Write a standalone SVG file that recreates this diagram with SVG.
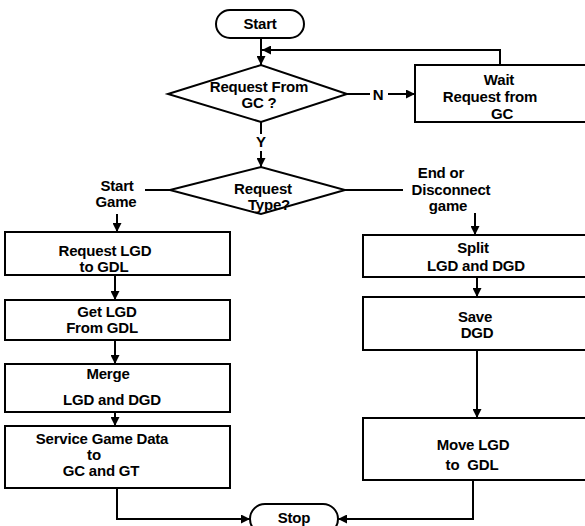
<svg xmlns="http://www.w3.org/2000/svg" width="585" height="526" viewBox="0 0 585 526">
<defs>
<marker id="ah" viewBox="0 0 10 10" refX="10" refY="5" markerWidth="9" markerHeight="9" markerUnits="userSpaceOnUse" orient="auto">
<path d="M0,0 L10,5 L0,10 z" fill="#000"/>
</marker>
<style>
.shape{fill:#fff;stroke:#000;stroke-width:2}
.t{font-family:"Liberation Sans",Arial,sans-serif;font-weight:bold;font-size:15px;fill:#000;text-anchor:middle;white-space:pre;letter-spacing:-0.2px}
.c{fill:none;stroke:#000;stroke-width:2}
.a{fill:none;stroke:#000;stroke-width:2;marker-end:url(#ah)}
</style>
</defs>
<rect width="585" height="526" fill="#fff"/>
<g id="connectors">
<line class="a" x1="261" y1="38" x2="261" y2="65"/>
<polyline class="a" points="500,65 500,50 262,50"/>
<line class="c" x1="347" y1="94" x2="370" y2="94"/>
<line class="a" x1="388" y1="94" x2="415" y2="94"/>
<line class="c" x1="261" y1="122" x2="261" y2="134"/>
<line class="a" x1="261" y1="151" x2="261" y2="167"/>
<line class="c" x1="145" y1="190" x2="170" y2="190"/>
<line class="c" x1="345" y1="190" x2="403" y2="190"/>
<line class="a" x1="117" y1="214" x2="117" y2="232"/>
<line class="a" x1="475" y1="213" x2="475" y2="235"/>
<line class="a" x1="115" y1="275" x2="115" y2="300"/>
<line class="a" x1="115" y1="340" x2="115" y2="364"/>
<line class="a" x1="115" y1="412" x2="115" y2="426"/>
<line class="a" x1="477" y1="277" x2="477" y2="297"/>
<line class="a" x1="477" y1="350" x2="477" y2="418"/>
<polyline class="a" points="117,488 117,519 250,519"/>
<polyline class="a" points="473,480 473,519 338,519"/>
</g>
<g id="start">
<rect class="shape" x="216" y="10" width="88" height="28" rx="14"/>
<text class="t" x="260" y="29">Start</text>
</g>
<g id="dec1">
<polygon class="shape" points="168,94 261,65 347,94 261,122"/>
<text class="t" x="259" y="92">Request From</text>
<text class="t" x="259" y="108">GC ?</text>
</g>
<g id="labelN"><text class="t" x="378" y="100">N</text></g>
<g id="wait">
<rect class="shape" x="415" y="65" width="175" height="57"/>
<text class="t" x="499" y="85">Wait</text>
<text class="t" x="490" y="102">Request from</text>
<text class="t" x="502" y="119">GC</text>
</g>
<g id="labelY"><text class="t" x="261" y="147">Y</text></g>
<g id="dec2">
<polygon class="shape" points="170,190 261,167 345,190 261,214"/>
<text class="t" x="263" y="194">Request</text>
<text class="t" x="269" y="210">Type?</text>
</g>
<g id="labelStartGame">
<text class="t" x="117" y="191">Start</text>
<text class="t" x="116" y="207">Game</text>
</g>
<g id="labelEnd">
<text class="t" x="441" y="178">End or</text>
<text class="t" x="451" y="195">Disconnect</text>
<text class="t" x="448" y="211">game</text>
</g>
<g id="reqLGD">
<rect class="shape" x="5" y="232" width="225" height="43"/>
<text class="t" x="105" y="256">Request LGD</text>
<text class="t" x="104" y="272">to GDL</text>
</g>
<g id="getLGD">
<rect class="shape" x="5" y="300" width="225" height="40"/>
<text class="t" x="107" y="317">Get LGD</text>
<text class="t" x="102" y="333">From GDL</text>
</g>
<g id="merge">
<rect class="shape" x="5" y="364" width="225" height="48"/>
<text class="t" x="108" y="379">Merge</text>
<text class="t" x="112" y="405">LGD and DGD</text>
</g>
<g id="service">
<rect class="shape" x="5" y="426" width="225" height="62"/>
<text class="t" x="102" y="444">Service Game Data</text>
<text class="t" x="94" y="460">to</text>
<text class="t" x="101" y="476">GC and GT</text>
</g>
<g id="split">
<rect class="shape" x="363" y="235" width="227" height="42"/>
<text class="t" x="473" y="253">Split</text>
<text class="t" x="476" y="271">LGD and DGD</text>
</g>
<g id="save">
<rect class="shape" x="363" y="297" width="227" height="53"/>
<text class="t" x="475" y="322">Save</text>
<text class="t" x="477" y="338">DGD</text>
</g>
<g id="move">
<rect class="shape" x="363" y="418" width="227" height="62"/>
<text class="t" x="473" y="450">Move LGD</text>
<text class="t" x="472" y="470">to  GDL</text>
</g>
<g id="stop">
<rect class="shape" x="250" y="504" width="88" height="30" rx="15"/>
<text class="t" x="294" y="523">Stop</text>
</g>
</svg>
